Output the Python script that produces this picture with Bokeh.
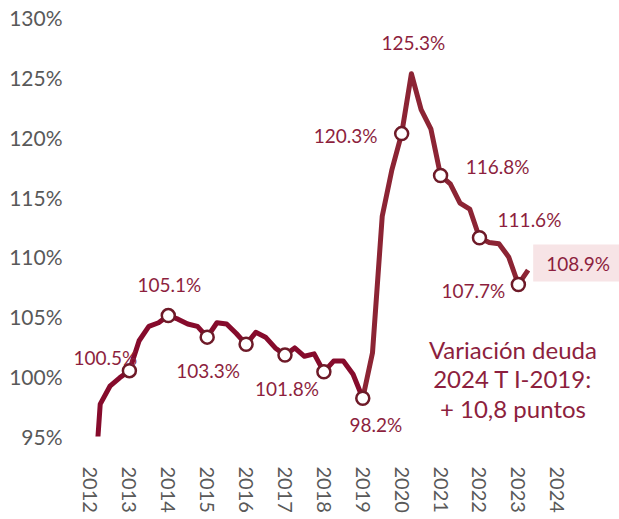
from bokeh.plotting import figure
from bokeh.models import FixedTicker, Range1d, Label, ColumnDataSource
from bokeh.embed import file_html
from bokeh.resources import INLINE
from bokeh.core.properties import value

# ---- data (quarterly debt ratio, % of GDP) ----
quarters = [
    "2012T4",
    "2013T1", "2013T2", "2013T3", "2013T4",
    "2014T1", "2014T2", "2014T3", "2014T4",
    "2015T1", "2015T2", "2015T3", "2015T4",
    "2016T1", "2016T2", "2016T3", "2016T4",
    "2017T1", "2017T2", "2017T3", "2017T4",
    "2018T1", "2018T2", "2018T3", "2018T4",
    "2019T1", "2019T2", "2019T3", "2019T4",
    "2020T1", "2020T2", "2020T3", "2020T4",
    "2021T1", "2021T2", "2021T3", "2021T4",
    "2022T1", "2022T2", "2022T3", "2022T4",
    "2023T1", "2023T2", "2023T3", "2023T4",
    "2024T1",
]
debt = [
    86.0,
    97.7, 99.2, 99.9, 100.5,
    103.0, 104.2, 104.5, 105.1,
    104.8, 104.4, 104.2, 103.3,
    104.5, 104.4, 103.6, 102.7,
    103.7, 103.3, 102.4, 101.8,
    102.4, 101.7, 101.9, 100.4,
    101.3, 101.3, 100.2, 98.2,
    102.0, 113.4, 117.3, 120.3,
    125.3, 122.3, 120.7, 116.8,
    116.1, 114.5, 114.0, 111.6,
    111.2, 111.1, 110.0, 107.7,
    108.9,
]
marker_quarters = ["2013T4", "2014T4", "2015T4", "2016T4", "2017T4", "2018T4",
                   "2019T4", "2020T4", "2021T4", "2022T4", "2023T4"]
label_quarters = ["2013T4", "2014T4", "2015T4", "2017T4", "2019T4",
                  "2020T4", "2021T1", "2021T4", "2022T4", "2023T4"]
last_quarter = "2024T1"
split_quarter = "2019T4"
year_ticks = [2012, 2013, 2014, 2015, 2016, 2017, 2018, 2019, 2020, 2021, 2022, 2023, 2024]
year_labels = [str(y) for y in year_ticks]
pct_ticks = [95, 100, 105, 110, 115, 120, 125, 130]
pct_labels = [f"{t}%" for t in pct_ticks]
note_lines = ["Variación deuda", "2024 T I-2019:", "+ 10,8 puntos"]

# ---- styling / positions ----
label_dx = [-24, 1, 1, 2, 13, -56, 2, 57, 50, -45]
label_dy = [-13, -31, 33, 33, 26, 2, -31, -9, -18, 6]

LINE1 = "#860B2C"
LINE2 = "#8C2434"
TXT = "#8D1F3E"
AX = "#595959"
FONT = "Lato"


def qx(q):
    return int(q[:4]) + (int(q[-1]) - 4) / 4.0


xs = [qx(q) for q in quarters]
val = dict(zip(quarters, debt))
i_split = quarters.index(split_quarter)

p = figure(width=619, height=519, output_backend="svg", toolbar_location=None,
           x_range=Range1d(2011.486, 2025.6), y_range=Range1d(95, 130),
           min_border_left=70, min_border_right=0, min_border_top=17, min_border_bottom=83)
p.outline_line_color = None
p.xgrid.visible = False
p.ygrid.visible = False
p.background_fill_color = "white"

# line, two tones
p.line(xs[:i_split + 1], debt[:i_split + 1], line_color=LINE1, line_width=5, line_join="round")
p.line(xs[i_split:], debt[i_split:], line_color=LINE2, line_width=5, line_join="round")

# markers
p.scatter([qx(q) for q in marker_quarters], [val[q] for q in marker_quarters],
          size=13, fill_color="white", line_color="#6E1A28", line_width=2.5)

# data labels
src = ColumnDataSource(dict(
    x=[qx(q) for q in label_quarters],
    y=[val[q] for q in label_quarters],
    t=[f"{val[q]:.1f}%" for q in label_quarters],
    dx=label_dx, dy=label_dy,
))
p.text(x="x", y="y", text="t", x_offset="dx", y_offset="dy", source=src,
       text_font=value(FONT), text_font_size="19px", text_color=TXT,
       text_align="center", text_baseline="middle")

# last value boxed label
p.add_layout(Label(x=qx(last_quarter), y=val[last_quarter], x_offset=50, y_offset=7,
                   text=f"{val[last_quarter]:.1f}%", text_font=FONT, text_font_size="19px",
                   text_color=TXT, text_align="center", text_baseline="middle",
                   background_fill_color="#F7E4E6",
                   padding=dict(left=13, right=13, top=7, bottom=7)))

# note
p.text(x=[2022.86] * 3, y=[99.83] * 3, text=note_lines, y_offset=[-29.5, 0, 29.5],
       text_font=value(FONT), text_font_size="24px", text_color=TXT,
       text_align="center", text_baseline="middle")

# axes
p.xaxis.ticker = FixedTicker(ticks=year_ticks)
p.xaxis.major_label_overrides = dict(zip(year_ticks, year_labels))
p.xaxis.major_label_orientation = "vertical"
p.yaxis.ticker = FixedTicker(ticks=pct_ticks)
p.yaxis.major_label_overrides = dict(zip(pct_ticks, pct_labels))
for ax in (p.xaxis[0], p.yaxis[0]):
    ax.axis_line_color = None
    ax.major_tick_line_color = None
    ax.minor_tick_line_color = None
    ax.major_tick_out = 0
    ax.major_tick_in = 0
    ax.minor_tick_out = 0
    ax.major_label_text_font = FONT
    ax.major_label_text_color = AX
p.xaxis.major_label_text_font_size = "20px"
p.xaxis.major_label_standoff = 30
p.yaxis.major_label_text_font_size = "21px"
p.yaxis.major_label_standoff = 8

open("out.html", "w").write(file_html(p, INLINE))
